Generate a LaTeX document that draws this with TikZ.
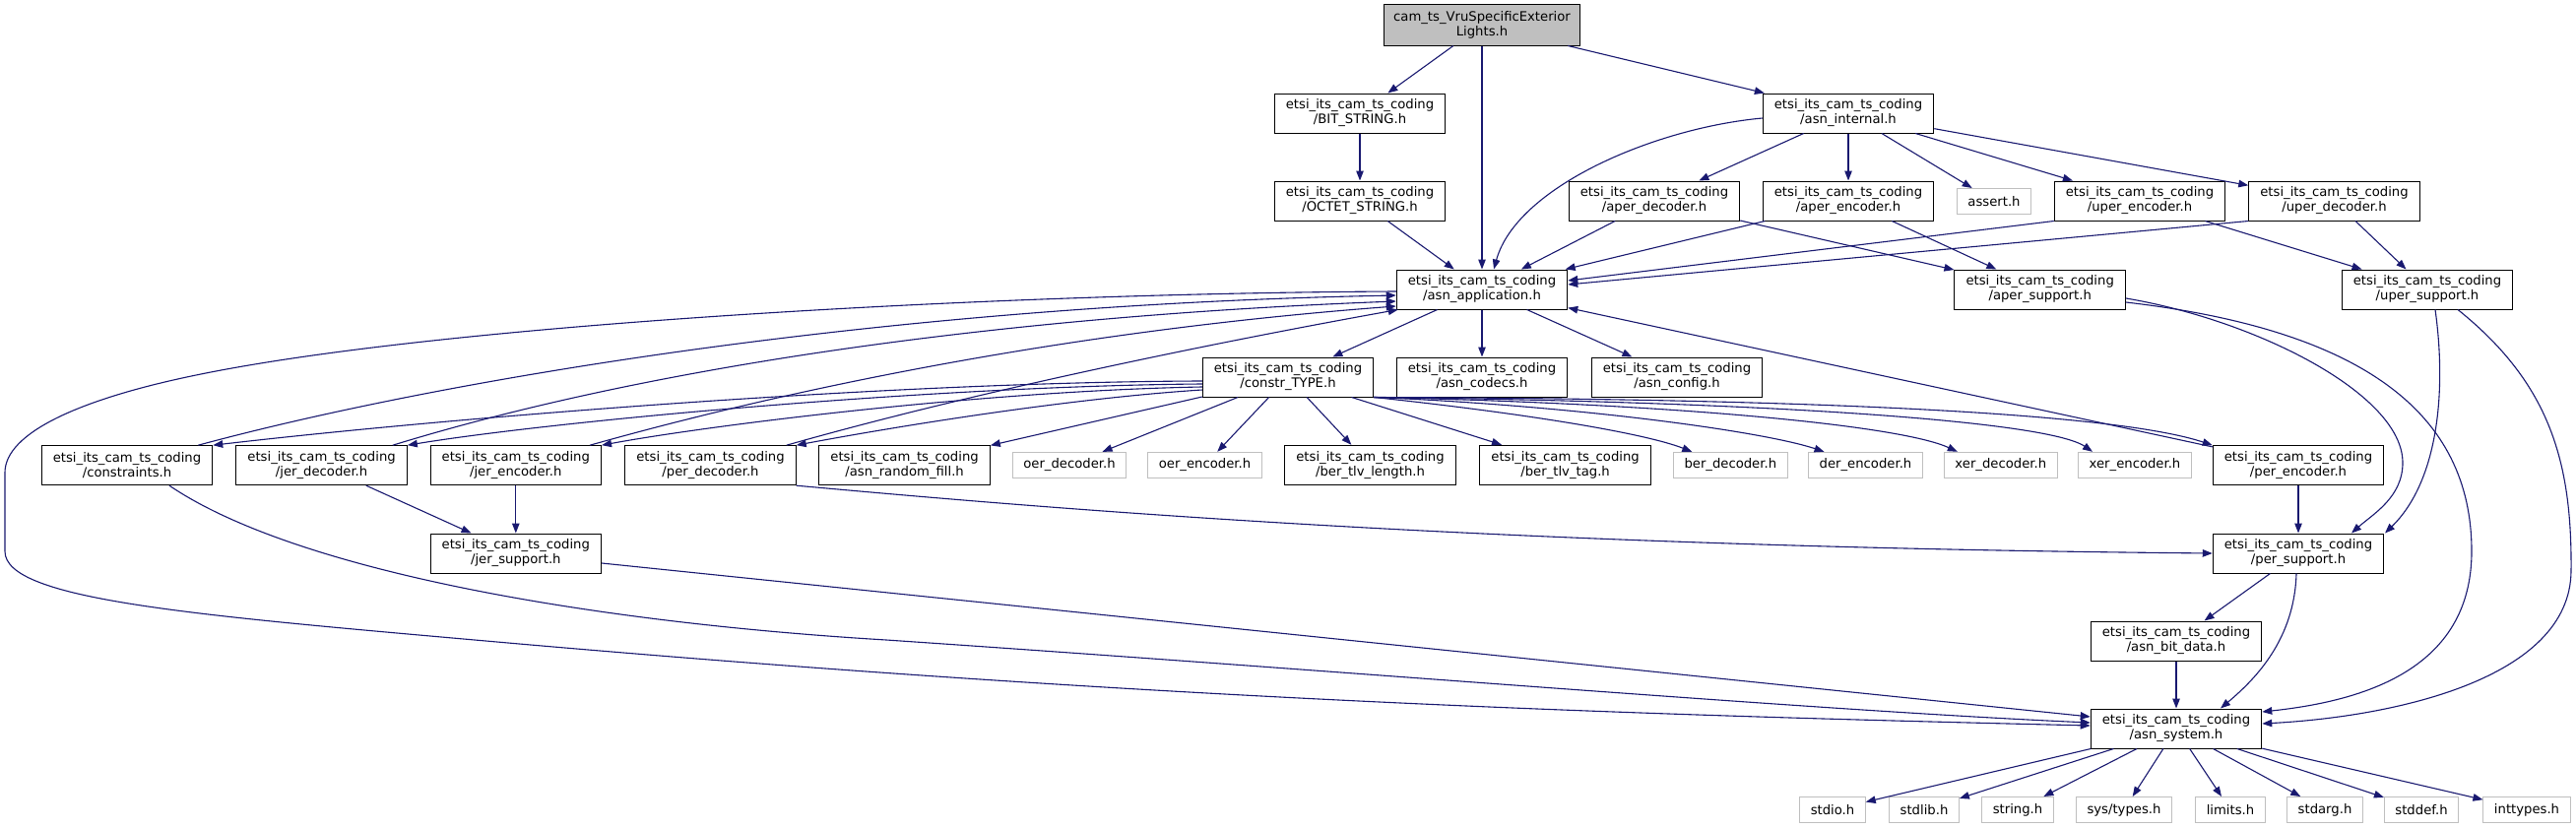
\documentclass[tikz,border=0pt]{standalone}
\usepackage{fontspec}
\setmainfont{DejaVu Sans}
\usetikzlibrary{arrows.meta,calc}
\definecolor{mblue}{HTML}{191970}
\definecolor{sysgray}{HTML}{BFBFBF}
\definecolor{rootfill}{HTML}{BFBFBF}
\newcommand{\etsi}{etsi\_its\_cam\_ts\_coding}
\begin{document}
\begin{tikzpicture}[x=1bp,y=-1bp,
 lbl/.style={font=\fontsize{13.2bp}{15bp}\selectfont, align=center, inner sep=0pt},
 file/.style={lbl, draw=black, line width=1bp, fill=white, minimum width=173.5bp, minimum height=40bp},
 sys/.style={lbl, draw=sysgray, line width=1bp, fill=white, minimum height=26bp, inner xsep=11bp},
 rootbox/.style={lbl, draw=black, line width=1bp, fill=rootfill, minimum width=198.6bp, minimum height=41bp},
 edge/.style={draw=mblue, line width=1.1bp, -{Triangle[length=10bp,width=7.5bp]}}]
\path[use as bounding box, fill=white] (0,0) rectangle (2616,841);

% nodes
\node[rootbox] (root) at (1505,25.5) {cam\_ts\_VruSpecificExterior\\Lights.h};
\node[file] (bit) at (1381,115) {\etsi\\/BIT\_STRING.h};
\node[file] (internal) at (1877,115) {\etsi\\/asn\_internal.h};
\node[file] (octet) at (1381,204) {\etsi\\/OCTET\_STRING.h};
\node[file] (aperdec) at (1680,204) {\etsi\\/aper\_decoder.h};
\node[file] (aperenc) at (1877,204) {\etsi\\/aper\_encoder.h};
\node[sys] (assert) at (2025,204.5) {assert.h};
\node[file] (uperenc) at (2173,204) {\etsi\\/uper\_encoder.h};
\node[file] (uperdec) at (2370.5,204) {\etsi\\/uper\_decoder.h};
\node[file] (app) at (1505,294) {\etsi\\/asn\_application.h};
\node[file] (apersup) at (2071.7,294) {\etsi\\/aper\_support.h};
\node[file] (upersup) at (2465,294) {\etsi\\/uper\_support.h};
\node[file] (constr) at (1308,383) {\etsi\\/constr\_TYPE.h};
\node[file] (codecs) at (1505,383) {\etsi\\/asn\_codecs.h};
\node[file] (config) at (1703,383) {\etsi\\/asn\_config.h};
\node[file] (constraints) at (129,472.7) {\etsi\\/constraints.h};
\node[file] (jerdec) at (326.6,472.7) {\etsi\\/jer\_decoder.h};
\node[file] (jerenc) at (523.8,472.7) {\etsi\\/jer\_encoder.h};
\node[file] (perdec) at (721.5,472.7) {\etsi\\/per\_decoder.h};
\node[file] (randfill) at (918.6,472.3) {\etsi\\/asn\_random\_fill.h};
\node[sys] (oerdec) at (1086,472.3) {oer\_decoder.h};
\node[sys] (oerenc) at (1223.5,472.3) {oer\_encoder.h};
\node[file] (tlvlen) at (1391.5,472.3) {\etsi\\/ber\_tlv\_length.h};
\node[file] (tlvtag) at (1589.6,472.3) {\etsi\\/ber\_tlv\_tag.h};
\node[sys] (berdec) at (1757.3,472.3) {ber\_decoder.h};
\node[sys] (derenc) at (1894.5,472.3) {der\_encoder.h};
\node[sys] (xerdec) at (2031.8,472.3) {xer\_decoder.h};
\node[sys] (xerenc) at (2168,472.3) {xer\_encoder.h};
\node[file] (perenc) at (2334,472.7) {\etsi\\/per\_encoder.h};
\node[file] (jersup) at (523.8,562) {\etsi\\/jer\_support.h};
\node[file] (persup) at (2334,562) {\etsi\\/per\_support.h};
\node[file] (bitdata) at (2210,651) {\etsi\\/asn\_bit\_data.h};
\node[file] (system) at (2210,740) {\etsi\\/asn\_system.h};
\node[sys] (stdio) at (1861,822.5) {stdio.h};
\node[sys] (stdlib) at (1954,822.5) {stdlib.h};
\node[sys] (string) at (2049,822.5) {string.h};
\node[sys] (systypes) at (2157,822.5) {sys/types.h};
\node[sys] (limits) at (2265,822.5) {limits.h};
\node[sys] (stdarg) at (2361,822.5) {stdarg.h};
\node[sys] (stddef) at (2459,822.5) {stddef.h};
\node[sys] (inttypes) at (2566,822.5) {inttypes.h};

% top part
\draw[edge] (root) -- (bit);
\draw[edge] (root) -- (app);
\draw[edge] (root) -- (internal);
\draw[edge] (bit) -- (octet);
\draw[edge] (octet) -- (app);
\draw[edge] ($(internal.west)+(0,5)$) .. controls (1680,130) and (1540,190) .. ($(app.north)+(12,0)$);
\draw[edge] (internal) -- (aperdec);
\draw[edge] (internal) -- (aperenc);
\draw[edge] (internal) -- (assert);
\draw[edge] (internal) -- (uperenc);
\draw[edge] (internal) -- (uperdec);
\draw[edge] (aperdec) -- (app);
\draw[edge] (aperdec) -- (apersup);
\draw[edge] (aperenc) -- (app);
\draw[edge] (aperenc) -- (apersup);
\draw[edge] (uperenc.south west) -- ($(app.east)+(0,-9)$);
\draw[edge] (uperdec.south west) -- ($(app.east)+(0,-5)$);
\draw[edge] (uperenc) -- (upersup);
\draw[edge] (uperdec) -- (upersup);

% asn_application
\draw[edge] (app) -- (constr);
\draw[edge] (app) -- (codecs);
\draw[edge] (app) -- (config);
\draw[edge] (perenc) -- (app);

% constr_TYPE to the left
\draw[edge] ($(constr.west)+(0,4)$) .. controls (900,388) and (450,425) .. (constraints.north east);
\draw[edge] ($(constr.west)+(0,7)$) .. controls (950,392) and (560,428) .. (jerdec.north east);
\draw[edge] ($(constr.west)+(0,10)$) .. controls (1000,397) and (720,432) .. (jerenc.north east);
\draw[edge] ($(constr.west)+(0,13)$) .. controls (1080,405) and (900,435) .. (perdec.north east);
% constr_TYPE below
\draw[edge] (constr) -- (randfill);
\draw[edge] (constr) -- (oerdec);
\draw[edge] (constr) -- (oerenc);
\draw[edge] (constr) -- (tlvlen);
\draw[edge] (constr) -- (tlvtag);
% constr_TYPE to the right
\draw[edge] (constr.south east) .. controls (1550,420) and (1670,440) .. ($(berdec.north)+(-39,0)$);
\draw[edge] (constr.south east) .. controls (1600,412) and (1790,438) .. ($(derenc.north)+(-42,0)$);
\draw[edge] (constr.south east) .. controls (1700,410) and (1930,432) .. ($(xerdec.north)+(-44,0)$);
\draw[edge] (constr.south east) .. controls (1800,408) and (2080,428) .. ($(xerenc.north)+(-43,0)$);
\draw[edge] (constr.south east) .. controls (1850,405) and (2150,420) .. (perenc.north west);

% back to asn_application
\draw[edge] ($(constraints.north east)+(-15,0)$) .. controls (450,385) and (900,310) .. ($(app.west)+(0,6)$);
\draw[edge] ($(jerdec.north east)+(-15,0)$) .. controls (650,375) and (1000,322) .. ($(app.west)+(0,12)$);
\draw[edge] ($(jerenc.north east)+(-12,0)$) .. controls (820,390) and (1100,335) .. ($(app.west)+(0,17)$);
\draw[edge] ($(perdec.north east)+(-10,0)$) .. controls (1000,395) and (1250,345) .. ($(app.south west)+(2,0)$);

% loop from asn_application to asn_system
\draw[edge] ($(app.west)+(0,2)$) .. controls (1000,298) and (450,330) .. (204,380)
  .. controls (80,405) and (5,440) .. (5,480) -- (5,560)
  .. controls (5,610) and (200,625) .. (516,653)
  .. controls (1200,713) and (1700,727) .. ($(system.west)+(0,-3)$);
\draw[edge] ($(constraints.south)+(43,0)$) .. controls (300,580) and (600,632) .. (900,650)
  .. controls (1400,684) and (1850,722) .. ($(system.west)+(0,-6)$);
\draw[edge] ($(jersup.east)+(0,10)$) -- ($(system.west)+(0,-12)$);

% jer
\draw[edge] (jerdec) -- (jersup);
\draw[edge] (jerenc) -- (jersup);

% per
\draw[edge] (perdec.south east) .. controls (1050,515) and (1500,555) .. (persup.west);
\draw[edge] (perenc) -- (persup);
\draw[edge] (persup) -- (bitdata);
\draw[edge] ($(persup.south)+(-2,0)$) .. controls (2330,650) and (2290,690) .. ($(system.north)+(45,0)$);
\draw[edge] (bitdata) -- (system);

% aper / uper support
\draw[edge] ($(apersup.east)+(0,9)$) .. controls (2290,325) and (2440,400) .. (2440,470)
  .. controls (2440,505) and (2410,522) .. ($(persup.north)+(54,0)$);
\draw[edge] ($(apersup.east)+(0,13)$) .. controls (2400,335) and (2510,420) .. (2510,560)
  .. controls (2510,680) and (2400,712) .. ($(system.east)+(0,-17)$);
\draw[edge] ($(upersup.south)+(8,0)$) .. controls (2485,400) and (2475,490) .. ($(persup.north)+(88,0)$);
\draw[edge] ($(upersup.south)+(31,0)$) .. controls (2590,390) and (2612,470) .. (2611,580)
  .. controls (2610,690) and (2430,728) .. ($(system.east)+(0,-5)$);

% system headers
\draw[edge] (system) -- (stdio);
\draw[edge] (system) -- (stdlib);
\draw[edge] (system) -- (string);
\draw[edge] (system) -- (systypes);
\draw[edge] (system) -- (limits);
\draw[edge] (system) -- (stdarg);
\draw[edge] (system) -- (stddef);
\draw[edge] (system) -- (inttypes);
\end{tikzpicture}
\end{document}
